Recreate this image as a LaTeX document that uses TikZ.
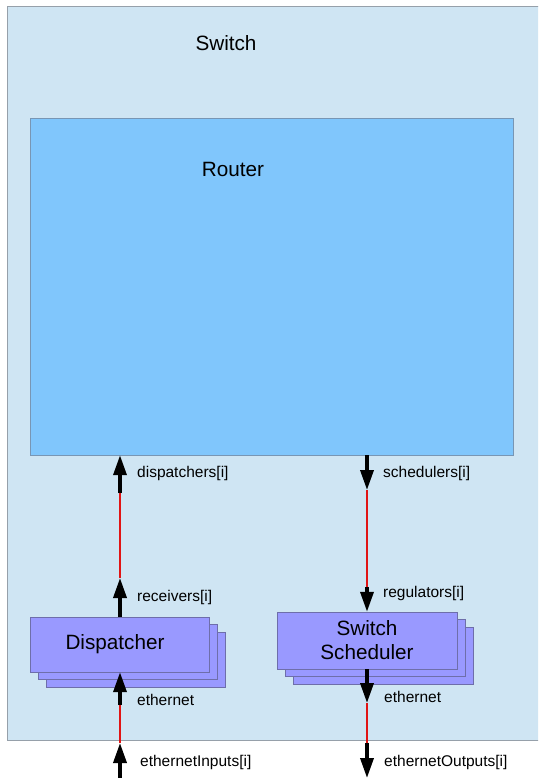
\documentclass[tikz,border=0pt]{standalone}
\usepackage{fontspec}
\setmainfont{Liberation Sans}
\usepackage{xcolor}
\definecolor{SwitchFill}{RGB}{207,229,243}
\definecolor{SwitchDraw}{RGB}{150,160,170}
\definecolor{RouterFill}{RGB}{128,198,252}
\definecolor{RouterDraw}{RGB}{120,150,180}
\definecolor{ModuleFill}{RGB}{153,153,255}
\definecolor{ModuleDraw}{RGB}{110,110,170}
\definecolor{LinkRed}{RGB}{225,20,20}
\usetikzlibrary{positioning,arrows.meta,shadows}

\tikzset{
  compound/.style={draw=SwitchDraw, fill=SwitchFill, inner sep=0pt},
  module/.style={draw=ModuleDraw, fill=ModuleFill, inner sep=0pt, align=center,
    font=\fontsize{20.7}{24}\selectfont,
    double copy shadow={shadow xshift=8pt, shadow yshift=-7.5pt}},
  title/.style={font=\fontsize{20.7}{24}\selectfont, inner sep=0pt},
  gate/.style={line width=3.5pt, -{Triangle[width=13pt,length=20pt]}},
  link/.style={line width=2.5pt, LinkRed},
  gatelabel/.style={anchor=west, inner sep=0pt, font=\fontsize{15.5}{18}\selectfont},
}

\begin{document}
\begin{tikzpicture}[x=1pt, y=1pt]
	\useasboundingbox (0,0) rectangle (538,-778);
	\clip (0,0) rectangle (538,-778);
	% compound modules
	\node[compound, minimum width=560pt, minimum height=734pt] (switch) at (287,-373) {};
	\node[title] (switchLabel) at (226,-43) {Switch};
	\node[compound, draw=RouterDraw, fill=RouterFill, minimum width=483pt, minimum height=337pt] (router) at (271.5,-286.5) {};
	\node[title] (routerLabel) at (233,-169) {Router};
	% submodules
	\node[module, minimum width=179pt, minimum height=55pt] (dispatcher) at (120,-644.5) {Dispatcher\hspace*{10pt}};
	\node[module, minimum width=180pt, minimum height=57pt] (scheduler) at (367,-640.5) {Switch\\Scheduler};
	% gates
	\coordinate (inEnd)      at (120,-778);
	\coordinate (inGate)     at (120,-743);
	\coordinate (dispEth)    at (120,-705);
	\coordinate (recvGate)   at (120,-578);
	\coordinate (dispGate)   at (120,-493);
	\coordinate (schedGate)  at (367,-490);
	\coordinate (regGate)    at (367,-587);
	\coordinate (schedEth)   at (367,-703);
	\coordinate (outGate)    at (367,-743);
	\coordinate (outEnd)     at (367,-778);
	% connections
	\draw[gate] (inEnd) -- (inGate);
	\draw[link] (inGate) -- (dispEth);
	\draw[gate] (dispEth) -- (dispatcher.south);
	\draw[gate] (dispatcher.north) -- (recvGate);
	\draw[link] (recvGate) -- (dispGate);
	\draw[gate] (dispGate) -- (router.south -| dispGate);
	\draw[gate] (router.south -| schedGate) -- (schedGate);
	\draw[link] (schedGate) -- (regGate);
	\draw[gate] (regGate) -- (scheduler.north);
	\draw[gate] (scheduler.south) -- (schedEth);
	\draw[link] (schedEth) -- (outGate);
	\draw[gate] (outGate) -- (outEnd);
	% gate names
	\node[gatelabel] (lDispatchers) at (137,-473) {dispatchers[i]};
	\node[gatelabel] (lReceivers)   at (137,-597) {receivers[i]};
	\node[gatelabel] (lEthIn)       at (137,-700) {ethernet};
	\node[gatelabel] (lInputs)      at (140,-762) {ethernetInputs[i]};
	\node[gatelabel] (lSchedulers)  at (383,-473) {schedulers[i]};
	\node[gatelabel] (lRegulators)  at (383,-593) {regulators[i]};
	\node[gatelabel] (lEthOut)      at (384,-697) {ethernet};
	\node[gatelabel] (lOutputs)     at (384,-762) {ethernetOutputs[i]};
\end{tikzpicture}
\end{document}
